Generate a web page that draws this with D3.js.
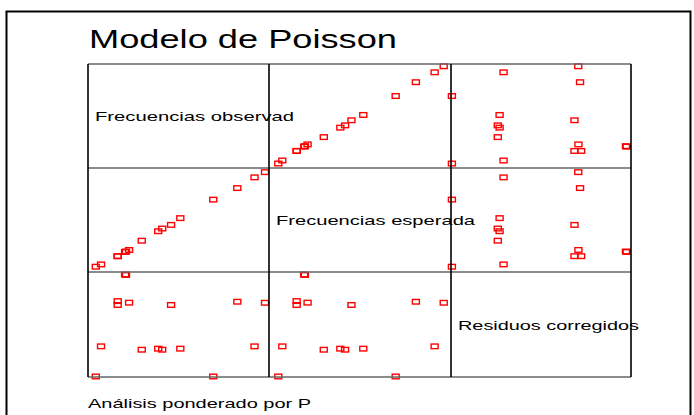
<!DOCTYPE html>
<html>
  <head>
    <meta charset="utf-8">
    <style>
      body { margin: 0; background: #fff; }
      svg { display: block; font-family: "Liberation Sans", Arial, sans-serif; }
    </style>
    <script src="https://d3js.org/d3.v7.min.js"></script>
  </head>
  <body>
    <svg></svg>
    <script>
    // values (relative units 0-100, no axes shown)
    var observed  = [97.8, 92, 82.5, 69.2, 51, 45.9, 41, 38.8, 29.7, 22.7, 21, 20.5, 16.4, 16.4, 7.2, 4.3];
    var expected  = [96, 91, 80.7, 69.6, 51.8, 45.3, 41.8, 39.2, 30.1, 21.2, 19.7, 19.3, 15.2, 15.2, 7.3, 5.1];
    var residuals = [70.7, 29.2, 71.7, 0.5, 27, 68.6, 26, 27, 26, 70.8, 97.2, 97.6, 72.3, 68.6, 29.2, 0.5];
    var varNames  = ["Frecuencias observad", "Frecuencias esperada", "Residuos corregidos"];

    var width = 694, height = 415;
    var svg = d3.select("svg").attr("width", width).attr("height", height);

    // outer frame
    svg.append("path")
        .attr("d", "M6.5,420 V11.5 H690.5 V420")
        .attr("fill", "none")
        .attr("stroke", "#000")
        .attr("stroke-width", 2);

    // the original output is stretched sideways, so text gets a fixed length
    svg.append("text")
        .attr("x", 89)
        .attr("y", 48)
        .attr("font-size", "26px")
        .attr("textLength", 308)
        .attr("lengthAdjust", "spacingAndGlyphs")
        .attr("fill", "#000")
        .text("Modelo de Poisson");

    svg.append("text")
        .attr("x", 88)
        .attr("y", 408)
        .attr("font-size", "13px")
        .attr("textLength", 223)
        .attr("lengthAdjust", "spacingAndGlyphs")
        .attr("fill", "#000")
        .text("Análisis ponderado por P");

    var data = observed.map(function(d, i) { return [d, expected[i], residuals[i]]; });

    var colX = [88, 269, 451, 631];
    var rowY = [64, 168, 272, 377];
    var labelLen = [199, 199, 181];

    var g = svg.append("g");

    // cell contents
    for (var r = 0; r < 3; r++) {
      for (var c = 0; c < 3; c++) {
        if (r === c) {
          g.append("text")
              .attr("x", colX[c] + 7)
              .attr("y", (rowY[r] + rowY[r + 1]) / 2 + 5)
              .attr("font-size", "13.5px")
              .attr("textLength", labelLen[r])
              .attr("lengthAdjust", "spacingAndGlyphs")
              .attr("fill", "#000")
              .text(varNames[r]);
          continue;
        }
        var x = d3.scaleLinear().domain([0, 100]).range([colX[c], colX[c + 1]]);
        var y = d3.scaleLinear().domain([0, 100]).range([rowY[r + 1], rowY[r]]);
        g.selectAll(null)
          .data(data)
          .enter().append("rect")
            .attr("x", function(d) { return x(d[c]) - 3.5; })
            .attr("y", function(d) { return y(d[r]) - 2.3; })
            .attr("width", 7)
            .attr("height", 4.6)
            .attr("fill", "none")
            .attr("stroke", "#f00")
            .attr("stroke-width", 1.4);
      }
    }

    // grid lines
    rowY.forEach(function(v) {
      svg.append("line")
          .attr("x1", colX[0]).attr("x2", colX[3])
          .attr("y1", v).attr("y2", v)
          .attr("stroke", "#666")
          .attr("stroke-width", 1.6);
    });
    colX.forEach(function(v) {
      svg.append("line")
          .attr("x1", v).attr("x2", v)
          .attr("y1", rowY[0]).attr("y2", rowY[3])
          .attr("stroke", "#000")
          .attr("stroke-width", 1.6);
    });
    </script>
  </body>
</html>
